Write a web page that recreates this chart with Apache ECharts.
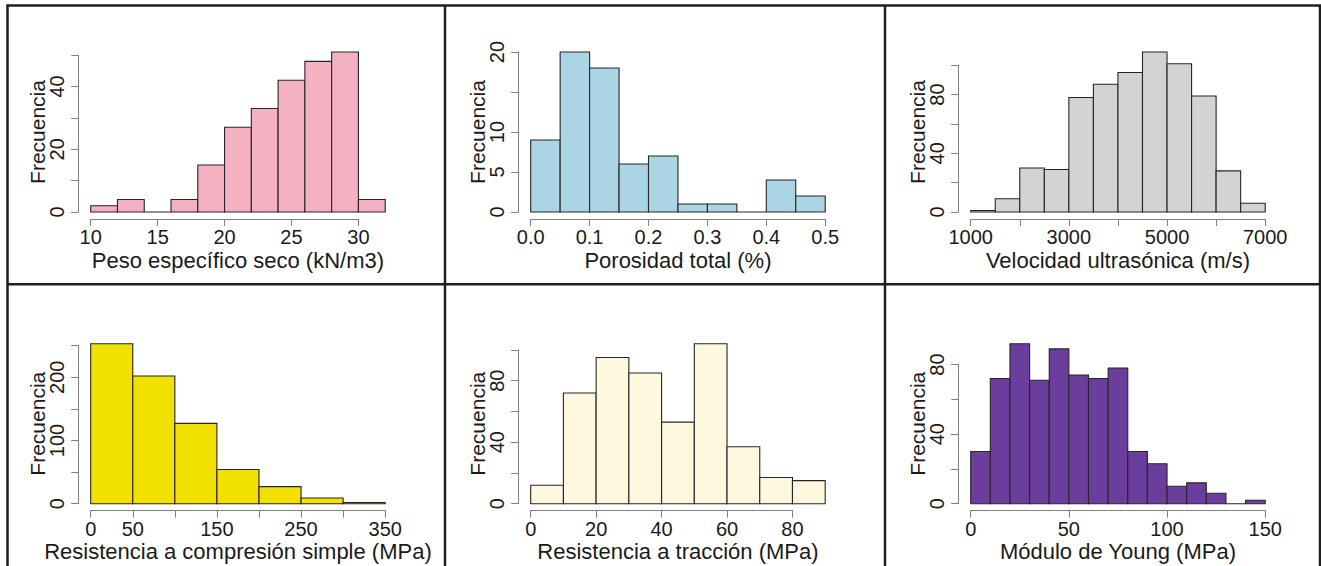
<!DOCTYPE html>
<html>
<head>
<meta charset="utf-8">
<script src="https://cdn.jsdelivr.net/npm/echarts@6/dist/echarts.min.js"></script>
<style>
html,body{margin:0;padding:0;background:#fff;}
#chart{width:1321px;height:566px;}
</style>
</head>
<body>
<div id="chart"></div>
<script>
// ---------- DATA ----------
const pesoBreaks = [10,12,14,16,18,20,22,24,26,28,30,32];
const pesoCounts = [2,4,0,4,15,27,33,42,48,51,4];
const pesoXTicks = [10,15,20,25,30];
const pesoXLabels = ['10','15','20','25','30'];
const pesoYTicks = [0,10,20,30,40,50];
const pesoYLabels = ['0','','20','','40',''];

const poroBreaks = [0,0.05,0.1,0.15,0.2,0.25,0.3,0.35,0.4,0.45,0.5];
const poroCounts = [9,20,18,6,7,1,1,0,4,2];
const poroXTicks = [0,0.1,0.2,0.3,0.4,0.5];
const poroXLabels = ['0.0','0.1','0.2','0.3','0.4','0.5'];
const poroYTicks = [0,5,10,15,20];
const poroYLabels = ['0','5','10','','20'];

const veloBreaks = [1000,1500,2000,2500,3000,3500,4000,4500,5000,5500,6000,6500,7000];
const veloCounts = [1,9,30,29,78,87,95,109,101,79,28,6];
const veloXTicks = [1000,2000,3000,4000,5000,6000,7000];
const veloXLabels = ['1000','','3000','','5000','','7000'];
const veloYTicks = [0,20,40,60,80,100];
const veloYLabels = ['0','','40','','80',''];

const rcsBreaks = [0,50,100,150,200,250,300,350];
const rcsCounts = [253,202,127,54,27,9,2];
const rcsXTicks = [0,50,100,150,200,250,300,350];
const rcsXLabels = ['0','50','','150','','250','','350'];
const rcsYTicks = [0,50,100,150,200,250];
const rcsYLabels = ['0','','100','','200',''];

const tracBreaks = [0,10,20,30,40,50,60,70,80,90];
const tracCounts = [12,72,95,85,53,104,37,17,15];
const tracXTicks = [0,20,40,60,80];
const tracXLabels = ['0','20','40','60','80'];
const tracYTicks = [0,20,40,60,80,100];
const tracYLabels = ['0','','40','','80',''];

const youngBreaks = [0,10,20,30,40,50,60,70,80,90,100,110,120,130,140,150];
const youngCounts = [30,72,92,71,89,74,72,78,30,23,10,12,6,0,2];
const youngXTicks = [0,50,100,150];
const youngXLabels = ['0','50','100','150'];
const youngYTicks = [0,20,40,60,80];
const youngYLabels = ['0','','40','','80'];

const xTitles = ['Peso específico seco (kN/m3)','Porosidad total (%)','Velocidad ultrasónica (m/s)',
                 'Resistencia a compresión simple (MPa)','Resistencia a tracción (MPa)','Módulo de Young (MPa)'];
const yTitle = 'Frecuencia';
const colors = ['#F4B1C2','#ABD5E5','#D3D3D3','#F1E000','#FEF9DE','#6B3E9E'];

// ---------- LAYOUT ----------
const panels = [
  {b:pesoBreaks, c:pesoCounts, xt:pesoXTicks, xl:pesoXLabels, yt:pesoYTicks, yl:pesoYLabels},
  {b:poroBreaks, c:poroCounts, xt:poroXTicks, xl:poroXLabels, yt:poroYTicks, yl:poroYLabels},
  {b:veloBreaks, c:veloCounts, xt:veloXTicks, xl:veloXLabels, yt:veloYTicks, yl:veloYLabels},
  {b:rcsBreaks, c:rcsCounts, xt:rcsXTicks, xl:rcsXLabels, yt:rcsYTicks, yl:rcsYLabels},
  {b:tracBreaks, c:tracCounts, xt:tracXTicks, xl:tracXLabels, yt:tracYTicks, yl:tracYLabels},
  {b:youngBreaks, c:youngCounts, xt:youngXTicks, xl:youngXLabels, yt:youngYTicks, yl:youngYLabels}
];
const COL = [0, 440, 880];
const Y0 = [212, 503.7];
const PLOT_LEFT = 90.7, FULL_W = 294.5, FULL_H = 160;
const FONT = '"Liberation Sans", Arial, Helvetica, sans-serif';
const TXT = '#1a1a1a';
const AX = '#808080';

function makeFmt(ticks, labels){
  return function(v){
    for (let i=0;i<ticks.length;i++){ if (Math.abs(ticks[i]-v) < 1e-9) return labels[i]; }
    return '';
  };
}

const grids=[], xAxes=[], yAxes=[], series=[], graphics=[];
panels.forEach(function(p, i){
  const col = i % 3, row = Math.floor(i/3);
  const a = p.b[0], bEnd = p.b[p.b.length-1];
  const maxC = Math.max.apply(null, p.c);
  const t0 = p.xt[0], t1 = p.xt[p.xt.length-1];
  const y1 = p.yt[p.yt.length-1];
  const pxPerX = FULL_W/(bEnd-a);
  const pxPerY = FULL_H/maxC;
  const left = COL[col] + PLOT_LEFT + (t0-a)*pxPerX;
  const width = (t1-t0)*pxPerX;
  const height = y1*pxPerY;
  const top = Y0[row] - height;
  grids.push({left:left, top:top, width:width, height:height, containLabel:false, outerBoundsMode:'none'});
  xAxes.push({
    type:'value', gridIndex:i, min:t0, max:t1, interval:p.xt[1]-p.xt[0], offset:7,
    splitLine:{show:false},
    axisLine:{show:true, onZero:false, lineStyle:{color:AX, width:1}},
    axisTick:{show:true, inside:false, length:7, lineStyle:{color:AX, width:1}},
    axisLabel:{show:true, margin:8, fontSize:20, color:TXT, fontFamily:FONT, showMinLabel:true, showMaxLabel:true,
      formatter:makeFmt(p.xt, p.xl)}
  });
  yAxes.push({
    type:'value', gridIndex:i, min:0, max:y1, interval:p.yt[1]-p.yt[0], offset:12.5,
    splitLine:{show:false},
    axisLine:{show:true, onZero:false, lineStyle:{color:AX, width:1}},
    axisTick:{show:true, inside:false, length:7, lineStyle:{color:AX, width:1}},
    axisLabel:{show:true, margin:11, rotate:90, fontSize:20, color:TXT, fontFamily:FONT, showMinLabel:true, showMaxLabel:true,
      formatter:makeFmt(p.yt, p.yl)}
  });
  const data = p.c.map(function(cnt, k){ return [p.b[k], p.b[k+1], cnt]; });
  const color = colors[i];
  series.push({
    type:'custom', xAxisIndex:i, yAxisIndex:i, clip:false, silent:true,
    encode:{x:[0,1], y:2},
    data:data,
    renderItem:function(params, api){
      const s = api.coord([api.value(0), 0]);
      const e = api.coord([api.value(1), api.value(2)]);
      return {type:'rect', shape:{x:s[0], y:e[1], width:e[0]-s[0], height:s[1]-e[1]},
        style:{fill:color, stroke:'#262626', lineWidth:1.1}};
    }
  });
  // axis titles
  const cx = COL[col] + PLOT_LEFT + FULL_W/2;
  graphics.push({type:'text', x:cx, y:Y0[row]+48, style:{text:xTitles[i], fill:TXT, font:'22px '+FONT, textAlign:'center', textVerticalAlign:'middle'}});
  graphics.push({type:'text', x:COL[col]+37, y:Y0[row]-80, rotation:Math.PI/2,
    style:{text:yTitle, fill:TXT, font:'21px '+FONT, textAlign:'center', textVerticalAlign:'middle'}});
});

// frame lines
const frameStyle = {stroke:'#1e1e1e', lineWidth:2.5};
[[7.5,5.5,7.5,566],[6.3,5.5,1321,5.5],[445,5.5,445,566],[885,5.5,885,566],[1320,5.5,1320,566],[7.5,284.3,1320,284.3]]
  .forEach(function(l){ graphics.push({type:'line', shape:{x1:l[0],y1:l[1],x2:l[2],y2:l[3]}, style:frameStyle}); });

const chart = echarts.init(document.getElementById('chart'), null, {renderer:'svg'});
chart.setOption({
  animation:false,
  backgroundColor:'#ffffff',
  grid:grids, xAxis:xAxes, yAxis:yAxes, series:series,
  graphic:{elements:graphics}
});
</script>
</body>
</html>
